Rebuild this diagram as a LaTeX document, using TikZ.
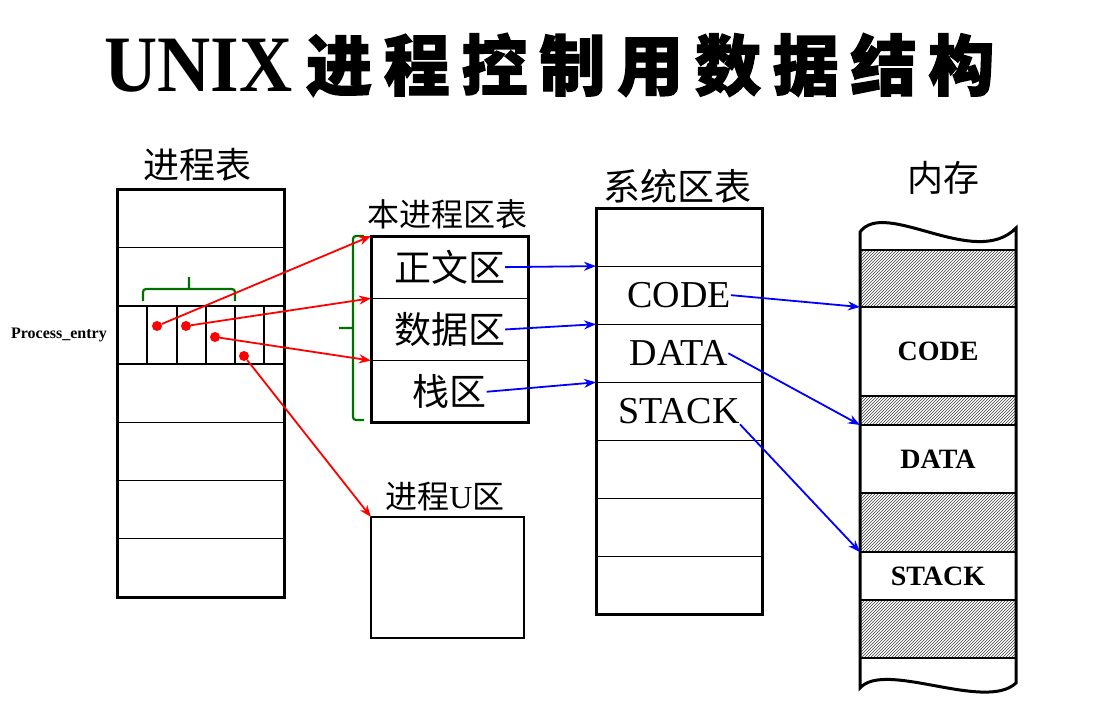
\documentclass[tikz,border=0pt]{standalone}
\usepackage{fontspec}
\setmainfont{Liberation Serif}
\newfontfamily\cjk{Noto Sans CJK SC}
\newfontfamily\cjkhead[BoldFeatures={FakeBold=2}]{Noto Sans CJK SC}
\usepackage{xcolor}
\usepackage{tikz}
\usetikzlibrary{positioning,arrows.meta,patterns}
\definecolor{bracegreen}{RGB}{0,112,0}

\begin{document}
\begin{tikzpicture}[x=1pt, y=-1pt,
    every node/.style={inner sep=0pt},
    cell/.style={draw, line width=1.2pt, anchor=north west, outer sep=0pt},
    ptab/.style={cell, minimum width=167pt, minimum height=58.3pt},
    stab/.style={cell, minimum width=166pt, minimum height=58.1pt},
    ltab/.style={cell, minimum width=157pt, minimum height=62.3pt},
    mseg/.style={cell, line width=2.5pt, minimum width=156pt, minimum height=#1,
                 font=\bfseries\fontsize{28}{28}\selectfont},
    hatch/.style={mseg=#1, pattern=north east lines, pattern color=black!75},
    outer/.style={line width=3pt},
    dot/.style={circle, fill=red, minimum size=10pt},
    cjktxt/.style={font=\cjk\fontsize{#1}{#1}\selectfont},
    lattxt/.style={font=\fontsize{38}{38}\selectfont},
    redarr/.style={red, line width=1.8pt, -{Stealth[length=12pt, width=9pt]}},
    bluearr/.style={blue, line width=1.8pt, -{Stealth[length=12pt, width=9pt]}},
    gbrace/.style={bracegreen, line width=2.2pt, rounded corners=3pt}]
  \useasboundingbox (0,0) rectangle (1097,706);

  % Title
  \node[anchor=base west, font=\bfseries\fontsize{80}{80}\selectfont] (unix) at (104,92)
    {\scalebox{0.92}[1]{UNIX}};
  \foreach \ch [count=\i from 0] in {进,程,控,制,用,数,据,结,构}
    \node[anchor=base, font=\cjkhead\bfseries\fontsize{66}{66}\selectfont] (head\i) at ({339+77.8*\i},90) {\ch};

  % Process table
  \node[cjktxt=36] (ptitle) at (197,165) {进程表};
  \node[ptab] (p0) at (117,189) {};
  \foreach \i [remember=\i as \j (initially 0)] in {1,...,6}
    \node[ptab] (p\i) at (p\j.south west) {};
  \draw[outer] (p0.north west) rectangle (p6.south east);
  \foreach \x in {30,60,89,118,147}
    \draw[line width=1.8pt] ([xshift=\x pt]p2.north west) -- ([xshift=\x pt]p2.south west);
  \draw[line width=1.8pt] (p2.north west) -- (p2.north east) (p2.south west) -- (p2.south east);
  \node[anchor=east, font=\bfseries\fontsize{16}{16}\selectfont] (pentry) at (107,335) {Process\_entry};
  \draw[gbrace] (143,301) |- (235,289) -- (235,301) (189,289) -- (189,277);
  \node[dot] (d1) at (157,326) {};
  \node[dot] (d2) at (186,326) {};
  \node[dot] (d3) at (215,337) {};
  \node[dot] (d4) at (244,356) {};

  % Local region table
  \node[cjktxt=32] (ltitle) at (447,214) {本进程区表};
  \node[ltab] (l0) at (371,236) {};
  \foreach \i [remember=\i as \j (initially 0)] in {1,2}
    \node[ltab] (l\i) at (l\j.south west) {};
  \draw[outer] (l0.north west) rectangle (l2.south east);
  \node[cjktxt=37] (zw) at (l0) {正文区};
  \node[cjktxt=37] (sj) at (l1) {数据区};
  \node[cjktxt=37] (zq) at (l2) {栈区};
  \draw[gbrace] (364,236) -| (353,420) -- (364,420) (353,328) -- (339,328);

  % U area
  \node[font=\fontsize{32}{32}\selectfont] (utitle) at (445,497) {{\cjk 进程}U{\cjk 区}};
  \node[cell, line width=2pt, minimum width=153pt, minimum height=121pt] (uarea) at (371,517) {};

  % System region table
  \node[cjktxt=37] (stitle) at (677,186) {系统区表};
  \node[stab] (s0) at (596,208) {};
  \foreach \i [remember=\i as \j (initially 0)] in {1,...,6}
    \node[stab] (s\i) at (s\j.south west) {};
  \draw[outer] (s0.north west) rectangle (s6.south east);
  \node[lattxt] (scode) at (s1) {CODE};
  \node[lattxt] (sdata) at (s2) {DATA};
  \node[lattxt] (sstack) at (s3) {STACK};

  % Memory
  \node[cjktxt=36] (mtitle) at (943,178) {内存};
  \node[hatch=57pt] (mh1) at (860,250) {};
  \node[mseg=89pt] (mcode) at (mh1.south west) {CODE};
  \node[hatch=29pt] (mh2) at (mcode.south west) {};
  \node[mseg=68pt] (mdata) at (mh2.south west) {DATA};
  \node[hatch=59pt] (mh3) at (mdata.south west) {};
  \node[mseg=48pt] (mstack) at (mh3.south west) {STACK};
  \node[hatch=58pt] (mh4) at (mstack.south west) {};
  \draw[outer] (860,232) .. controls (885,198) and (975,270) .. (1016,228) -- (1016,683)
    .. controls (985,712) and (885,660) .. (860,688) -- cycle;

  % Pointers
  \draw[redarr] (d1) -- (l0.north west);
  \draw[redarr] (d2) -- (l1.north west);
  \draw[redarr] (d3) -- (l2.north west);
  \draw[redarr] (d4) -- (uarea.north west);
  \draw[bluearr] (zw.east) -- (s1.north west);
  \draw[bluearr] (sj.east) -- (s2.north west);
  \draw[bluearr] (zq.east) -- (s3.north west);
  \draw[bluearr] (scode.east) -- (mcode.north west);
  \draw[bluearr] (sdata.east) -- (mdata.north west);
  \draw[bluearr] (sstack.south east) -- (mstack.north west);
\end{tikzpicture}
\end{document}
